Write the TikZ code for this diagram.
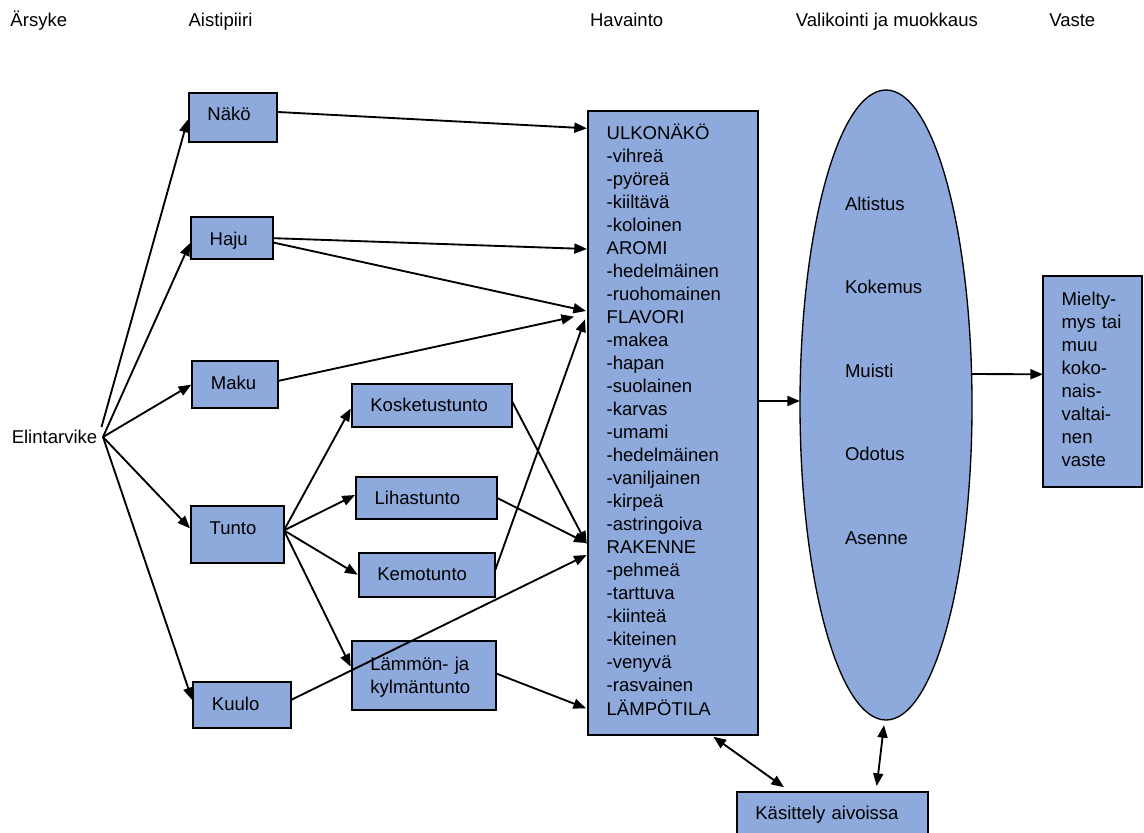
\documentclass[tikz,border=0pt]{standalone}
\usepackage{fontspec}
\setmainfont{Liberation Sans}
\usetikzlibrary{arrows.meta,shapes.geometric,calc}
\definecolor{boxblue}{RGB}{142,169,219}
\newdimen\pxu \pxu=0.75pt
\tikzset{
  box/.style={draw=black, line width=1.4pt, fill=boxblue, anchor=north west, outer sep=0pt, inner xsep=14pt, inner ysep=0pt, align=left},
  arr/.style={line width=1.4pt, -{Triangle[length=9.5pt,width=7.5pt]}},
  darr/.style={line width=1.4pt, {Triangle[length=9.5pt,width=7.5pt]}-{Triangle[length=9.5pt,width=7.5pt]}},
  hdr/.style={anchor=base west, inner sep=0pt},
}
\begin{document}
\begin{tikzpicture}[x=0.75pt,y=-0.75pt,font=\fontsize{13.9pt}{17.28pt}\selectfont]
\fill[white] (0,0) rectangle (1144,832);
\useasboundingbox (0,0) rectangle (1144,832);

% headers
\node[hdr] (h1) at (10.2,26.7) {Ärsyke};
\node[hdr] (h2) at (188.3,26.7) {Aistipiiri};
\node[hdr] (h3) at (589.8,26.7) {Havainto};
\node[hdr] (h4) at (795.6,26.7) {Valikointi ja muokkaus};
\node[hdr] (h5) at (1049,26.7) {Vaste};

% stimulus
\node[hdr] (elin) at (11.5,443.4) {Elintarvike};
\coordinate (E) at (103,437);
\coordinate (E2) at (101.5,427);

% sense boxes
\node[box, text width=50.6\pxu, text height=26.7\pxu, text depth=22\pxu] (nako) at (188.7,93.3) {Näkö};
\node[box, text width=44.6\pxu, text height=28\pxu, text depth=14.3\pxu] (haju) at (191,217) {Haju};
\node[box, text width=48.3\pxu, text height=28.3\pxu, text depth=19\pxu] (maku) at (192.3,361) {Maku};
\node[box, text width=55.6\pxu, text height=28\pxu, text depth=28.7\pxu] (tunto) at (191,506) {Tunto};
\node[box, text width=60\pxu, text height=28\pxu, text depth=18.3\pxu] (kuulo) at (193.3,682) {Kuulo};

\node[box, text width=123.2\pxu, text height=27.4\pxu, text depth=15\pxu] (kosk) at (351.7,384.3) {Kosketustunto};
\node[box, text width=103.3\pxu, text height=27.3\pxu, text depth=14.7\pxu] (lih) at (356,476.7) {Lihastunto};
\node[box, text width=99.2\pxu, text height=28\pxu, text depth=16\pxu] (kemo) at (358.7,552.7) {Kemotunto};
\node[box, text width=106.6\pxu, text height=28.7\pxu, text depth=40\pxu] (lam) at (351.7,641.3) {Lämmön- ja\\kylmäntunto};

% perception box
\node[box, text width=132.3\pxu, text height=28\pxu, text depth=596\pxu] (big) at (588,111) {ULKONÄKÖ\\-vihreä\\-pyöreä\\-kiiltävä\\-koloinen\\AROMI\\-hedelmäinen\\-ruohomainen\\FLAVORI\\-makea\\-hapan\\-suolainen\\-karvas\\-umami\\-hedelmäinen\\-vaniljainen\\-kirpeä\\-astringoiva\\RAKENNE\\-pehmeä\\-tarttuva\\-kiinteä\\-kiteinen\\-venyvä\\-rasvainen\\LÄMPÖTILA};

% selection ellipse
\node[ellipse, draw=black, line width=1pt, fill=boxblue, minimum width=172\pxu, minimum height=630\pxu, inner sep=0pt, outer sep=0pt, text width=82\pxu, align=left, text height=20\pxu, text depth=410\pxu, font=\fontsize{13.9pt}{62.7pt}\selectfont] (ell) at (886,405) {Altistus\\Kokemus\\Muisti\\Odotus\\Asenne};

% response
\node[box, text width=62\pxu, text height=29\pxu, text depth=181.7\pxu] (mielt) at (1043,276) {Mielty-\\mys tai\\muu\\koko-\\nais-\\valtai-\\nen\\vaste};

% brain processing
\node[box, text width=153.6\pxu, text height=27.3\pxu, text depth=31\pxu] (kas) at (736.7,791.7) {Käsittely aivoissa};

% stimulus -> senses
\draw[arr] (E2) -- ($(nako.west)+(-1,2)$);
\draw[arr] (E) -- ($(haju.west)+(-1,5)$);
\draw[arr] (E) -- ($(maku.west)+(-1,0)$);
\draw[arr] (E) -- ($(tunto.west)+(-1,-6)$);
\draw[arr] (E) -- ($(kuulo.west)+(-1,-5)$);

% touch -> sub-senses
\coordinate (T) at ($(tunto.east)+(0,-4)$);
\draw[arr] (T) -- ($(kosk.west)+(-1,3)$);
\draw[arr] (T) -- ($(lih.west)+(-1,-2.7)$);
\draw[arr] (T) -- ($(kemo.west)+(-1,0)$);
\draw[arr] (T) -- ($(lam.north west)+(-1,25.4)$);

% senses -> perception
\draw[arr] ($(nako.east)+(0,-5.7)$) -- ($(big.north west)+(-1,17.3)$);
\draw[arr] (haju.east) -- ($(big.north west)+(-1,138)$);
\draw[arr] ($(haju.east)+(0,4.3)$) -- ($(big.north west)+(-2,200)$);
\draw[arr] ($(maku.east)+(0,-3.7)$) -- ($(big.north west)+(-14,205.7)$);
\draw[arr] ($(kemo.east)+(0,-4.7)$) -- ($(big.north west)+(-3,208.3)$);
\draw[arr] ($(kosk.east)+(0,-3.8)$) -- ($(big.north west)+(-1.3,433)$);
\draw[arr] (lih.east) -- ($(big.north west)+(-1.3,432)$);
\draw[arr] ($(kuulo.east)+(0,-5)$) -- ($(big.north west)+(-1.3,444)$);
\draw[arr] ($(lam.east)+(0,-2.4)$) -- ($(big.north west)+(-2,597.3)$);

% perception -> selection -> response
\draw[arr] ($(big.north east)+(0,290)$) -- ($(ell.west)+(0,-4)$);
\draw[arr] ($(ell.east)+(0,-31)$) -- ($(mielt.north west)+(0,98.3)$);

% brain processing links
\draw[darr] ($(big.south west)+(125.3,1.7)$) -- ($(kas.north west)+(47.3,-4.4)$);
\draw[darr] ($(ell.south)+(-2,5)$) -- ($(kas.north west)+(140,-5.7)$);
\end{tikzpicture}
\end{document}
